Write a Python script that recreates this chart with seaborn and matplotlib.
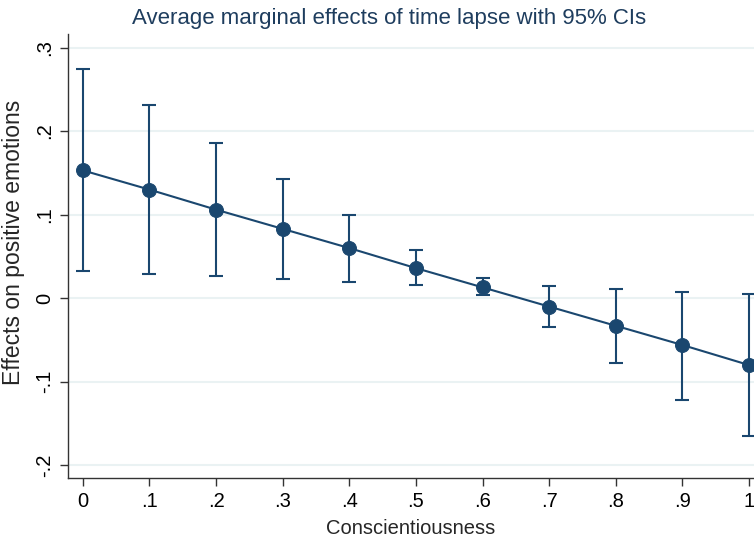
import matplotlib
matplotlib.use("Agg")
import matplotlib.pyplot as plt
import numpy as np
import pandas as pd
import seaborn as sns

# ── Data ──────────────────────────────────────────────────────────────────────
conscientiousness = [0.0, 0.1, 0.2, 0.3, 0.4, 0.5, 0.6, 0.7, 0.8, 0.9, 1.0]
effect   = [0.153, 0.130, 0.106, 0.083, 0.060, 0.036, 0.013, -0.010, -0.033, -0.056, -0.080]
ci_low   = [0.032, 0.029, 0.026, 0.023, 0.020, 0.016, 0.004, -0.035, -0.078, -0.122, -0.165]
ci_high  = [0.274, 0.231, 0.186, 0.143, 0.100, 0.058, 0.024, 0.015, 0.011, 0.008, 0.005]

x_ticks  = [0.0, 0.1, 0.2, 0.3, 0.4, 0.5, 0.6, 0.7, 0.8, 0.9, 1.0]
x_labels = ["0", ".1", ".2", ".3", ".4", ".5", ".6", ".7", ".8", ".9", "1"]
y_ticks  = [-0.2, -0.1, 0.0, 0.1, 0.2, 0.3]
y_labels = ["-.2", "-.1", "0", ".1", ".2", ".3"]

df = pd.DataFrame({"x": conscientiousness, "y": effect,
                   "lo": ci_low, "hi": ci_high})

# ── Style ─────────────────────────────────────────────────────────────────────
NAVY = "#1a476f"
sns.set_style("white")
plt.rcParams["font.family"] = ["Liberation Sans", "DejaVu Sans"]

fig = plt.figure(figsize=(7.54, 5.43), dpi=100)
ax = fig.add_axes([0.090, 0.120, 0.910, 0.817])

ax.errorbar(df["x"], df["y"],
            yerr=[df["y"] - df["lo"], df["hi"] - df["y"]],
            fmt="none", ecolor=NAVY, elinewidth=1.5, capsize=5, capthick=1.5,
            zorder=2)
sns.lineplot(data=df, x="x", y="y", ax=ax, color=NAVY, linewidth=1.5,
             marker="o", markersize=10, markeredgecolor=NAVY, zorder=3)

ax.set_xlim(-0.0225, 1.0075)
ax.set_ylim(-0.215, 0.316)
ax.set_xticks(x_ticks, x_labels)
ax.set_yticks(y_ticks, y_labels)
for lbl in ax.get_yticklabels():
    lbl.set_rotation(90)
    lbl.set_va("center")

ax.yaxis.grid(True, color="#eaf2f3", linewidth=1.5)
ax.set_axisbelow(True)
ax.tick_params(axis="both", direction="out", length=6, width=1,
               color="#333333", labelsize=14.5, labelcolor="black", pad=4)
ax.tick_params(left=True, bottom=True)

sns.despine(ax=ax, top=True, right=True)
for side in ("left", "bottom"):
    ax.spines[side].set_color("#333333")
    ax.spines[side].set_linewidth(1.0)

ax.set_xlabel("Conscientiousness", fontsize=14.5, labelpad=6)
ax.set_ylabel("Effects on positive emotions", fontsize=16.5)
ax.yaxis.set_label_coords(-0.063, 0.53)
fig.suptitle("Average marginal effects of time lapse with 95% CIs",
             x=0.516, y=0.985, fontsize=16, color="#1e3d5e")

fig.savefig("out.png", dpi=100, facecolor="white")
plt.close(fig)
